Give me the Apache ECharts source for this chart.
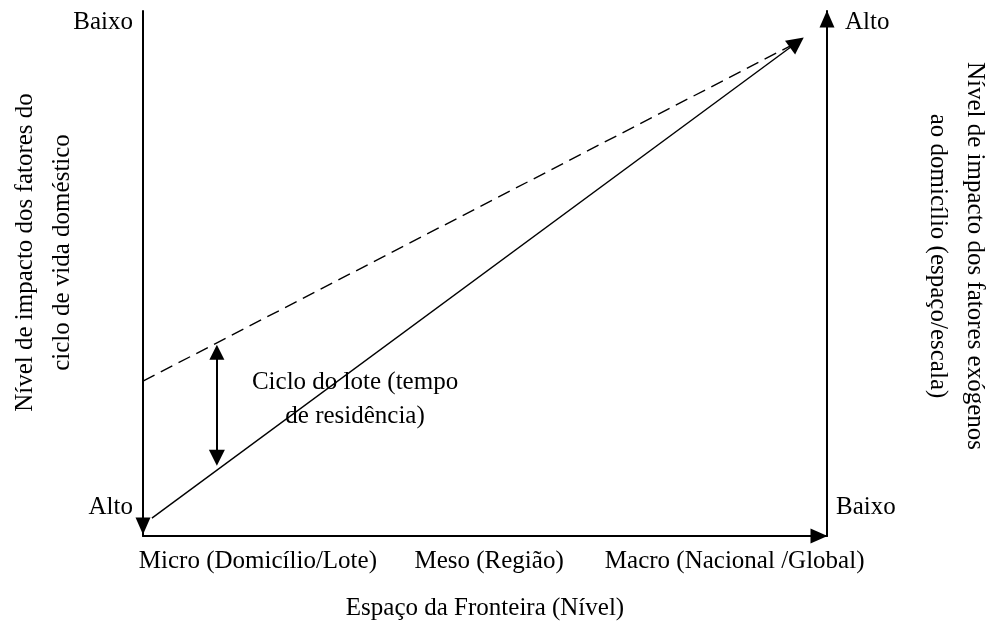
<!DOCTYPE html>
<html>
<head>
<meta charset="utf-8">
<script src="https://cdn.jsdelivr.net/npm/echarts@6/dist/echarts.min.js"></script>
<style>html,body{margin:0;padding:0;background:#fff}#c{width:995px;height:627px}</style>
</head>
<body>
<div id="c"></div>
<script>
// ---- data ----
var xLevelLabels = ['Micro (Domicílio/Lote)', 'Meso (Região)', 'Macro (Nacional /Global)'];
var xLevelPositions = [16.8, 50.6, 86.5];
var xAxisTitle = 'Espaço da Fronteira (Nível)';
var leftAxisTitle = 'Nível de impacto dos fatores do\nciclo de vida doméstico';
var rightAxisTitle = 'Nível de impacto dos fatores exógenos\nao domicílio (espaço/escala)';
var cornerLabels = ['Baixo', 'Alto', 'Alto', 'Baixo'];
var cornerX = [0, 0, 100, 100];
var cornerY = [97.9, 5.5, 97.9, 5.5];
var solidLine = [[1.3, 3.4], [95.6, 94.0]];
var dashedLine = [[0, 29.5], [95.0, 93.6]];
var cycleArrow = [[10.8, 35.0], [10.8, 14.9]];
var cycleLabel = 'Ciclo do lote (tempo\nde residência)';
var cycleLabelPos = [31.0, 26.1];

// ---- chart ----
var FONT = "'Liberation Serif', 'Times New Roman', serif";
var FS = 25;
var chart = echarts.init(document.getElementById('c'), null, {renderer: 'canvas'});
var txt = {fontFamily: FONT, fontSize: FS, color: '#000'};

var cornerData = cornerLabels.map(function (t, i) {
  var left = cornerX[i] === 0;
  return {
    value: [cornerX[i], cornerY[i]], name: t,
    label: {position: left ? 'left' : 'right', distance: left ? 10 : (i === 2 ? 18 : 9)}
  };
});

var option = {
  animation: false,
  backgroundColor: '#fff',
  grid: {left: 143, right: 168, top: 11, bottom: 91, containLabel: false, outerBoundsMode: 'none'},
  xAxis: {
    type: 'value', min: 0, max: 100,
    name: xAxisTitle, nameLocation: 'middle', nameGap: 60,
    nameTextStyle: txt,
    axisLine: {show: true, lineStyle: {color: '#000', width: 2}, symbol: ['none', 'triangle'], symbolSize: [15, 17], symbolOffset: [0, -8]},
    axisTick: {show: false},
    splitLine: {show: false},
    axisLabel: {
      customValues: xLevelPositions, margin: 13,
      fontFamily: FONT, fontSize: FS, color: '#000',
      formatter: function (v) {
        var idx = xLevelPositions.indexOf(v);
        return idx >= 0 ? xLevelLabels[idx] : '';
      }
    }
  },
  yAxis: [{
    type: 'value', min: 0, max: 100, position: 'left',
    name: leftAxisTitle, nameLocation: 'middle', nameRotate: 90, nameGap: 62,
    nameTextStyle: Object.assign({lineHeight: 37, padding: [0, 0, 0, 42]}, txt),
    axisLine: {show: true, lineStyle: {color: '#000', width: 2}, symbol: ['triangle', 'none'], symbolSize: [15, 17], symbolOffset: [10, 0]},
    axisTick: {show: false}, axisLabel: {show: false}, splitLine: {show: false}
  }, {
    type: 'value', min: 0, max: 100, position: 'right',
    name: rightAxisTitle, nameLocation: 'middle', nameRotate: -90, nameGap: 92,
    nameTextStyle: Object.assign({lineHeight: 37, padding: [0, 35, 0, 0]}, txt),
    axisLine: {show: true, onZero: false, lineStyle: {color: '#000', width: 2}, symbol: ['none', 'triangle'], symbolSize: [15, 17], symbolOffset: [0, -8]},
    axisTick: {show: false}, axisLabel: {show: false}, splitLine: {show: false}
  }],
  series: [{
    type: 'lines', coordinateSystem: 'cartesian2d', yAxisIndex: 1,
    polyline: false, silent: true,
    symbol: ['none', 'triangle'], symbolSize: [15, 17],
    lineStyle: {color: '#000', width: 1.4, opacity: 1},
    data: [{coords: solidLine}]
  }, {
    type: 'lines', coordinateSystem: 'cartesian2d', yAxisIndex: 1,
    silent: true, symbol: ['none', 'none'],
    lineStyle: {color: '#000', width: 1.4, type: [13, 7], opacity: 1},
    data: [{coords: dashedLine}]
  }, {
    type: 'lines', coordinateSystem: 'cartesian2d', yAxisIndex: 1,
    silent: true, symbol: ['triangle', 'triangle'], symbolSize: [15, 16],
    lineStyle: {color: '#000', width: 2, opacity: 1},
    data: [{coords: cycleArrow}]
  }, {
    type: 'scatter', yAxisIndex: 1, symbolSize: 0, silent: true,
    itemStyle: {opacity: 1, color: '#000'},
    label: {show: true, formatter: '{b}', fontFamily: FONT, fontSize: FS, color: '#000', opacity: 1},
    data: cornerData
  }, {
    type: 'scatter', yAxisIndex: 1, symbolSize: 0, silent: true,
    itemStyle: {opacity: 1, color: '#000'},
    label: {show: true, position: 'inside', formatter: '{b}', align: 'center', verticalAlign: 'middle',
      lineHeight: 34, fontFamily: FONT, fontSize: FS, color: '#000', opacity: 1},
    data: [{value: cycleLabelPos, name: cycleLabel}]
  }]
};
chart.setOption(option);
</script>
</body>
</html>
